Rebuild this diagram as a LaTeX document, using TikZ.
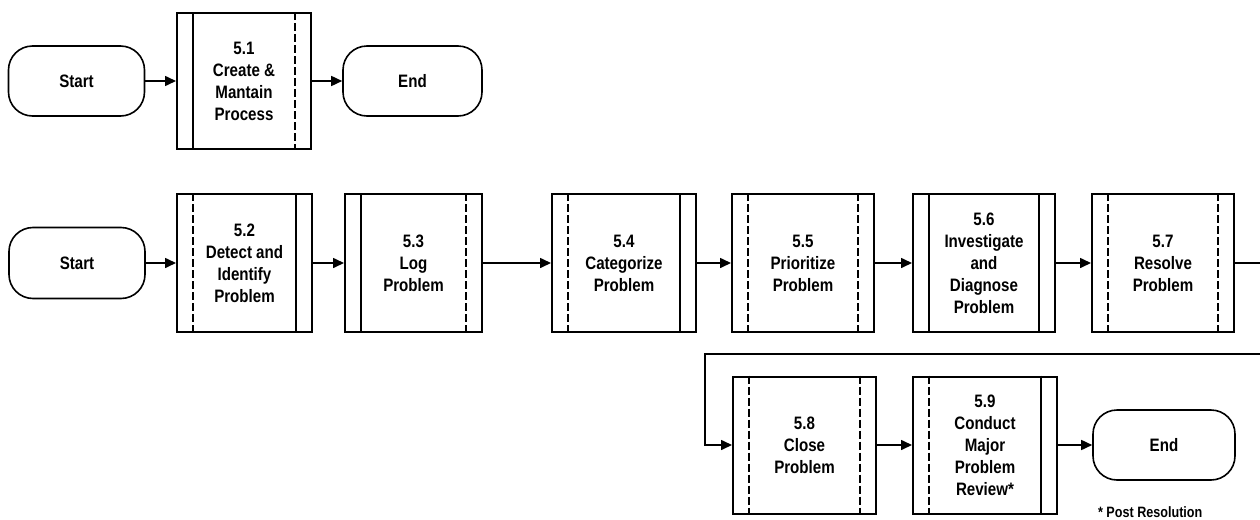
\documentclass[tikz,border=0pt]{standalone}
\usepackage{fontspec}
\setmainfont{Liberation Sans}[FakeStretch=0.84]
\usetikzlibrary{arrows.meta}
\begin{document}
\begin{tikzpicture}[x=0.5pt,y=-0.5pt,
  lbl/.style={font=\bfseries\fontsize{9}{11}\selectfont, align=center},
  term/.style={draw, line width=0.8pt, rounded corners=12pt,
    minimum width=68pt, minimum height=35pt, inner sep=0pt, lbl},
  proc/.style={draw, line width=1pt, minimum width=71pt, minimum height=69pt,
    inner sep=0pt, lbl},
  flow/.style={line width=0.8pt, -{Triangle[length=5.5pt,width=5pt]}},
  barsolid/.style={line width=0.8pt},
  bardash/.style={line width=0.8pt, dash pattern=on 4pt off 1.5pt},
  note/.style={font=\bfseries\fontsize{7.5}{9}\selectfont}]
\useasboundingbox (0,0) rectangle (1260,520);

% vertical bars inside a predefined-process box
\newcommand\procbars[3]{%
  \draw[#2] ([xshift=8.5pt]#1.north west) -- ([xshift=8.5pt]#1.south west);
  \draw[#3] ([xshift=-8.5pt]#1.north east) -- ([xshift=-8.5pt]#1.south east);}

% row 1
\node[term] (s1) at (76.5,81) {Start};
\node[proc, minimum width=67pt, minimum height=68pt] (b51) at (244,81)
  {5.1\\Create \&\\Mantain\\Process};
\node[term, minimum width=69.5pt] (e1) at (412.5,81) {End};

% row 2
\node[term, minimum height=35.5pt] (s2) at (77,263) {Start};
\node[proc, minimum width=67.5pt] (b52) at (244.5,263) {5.2\\Detect and\\Identify\\Problem};
\node[proc, minimum width=68.5pt] (b53) at (413.5,263) {5.3\\Log\\Problem};
\node[proc, minimum width=72pt] (b54) at (624,263) {5.4\\Categorize\\Problem};
\node[proc] (b55) at (803,263) {5.5\\Prioritize\\Problem};
\node[proc] (b56) at (984,263) {5.6\\Investigate\\and\\Diagnose\\Problem};
\node[proc] (b57) at (1163,263) {5.7\\Resolve\\Problem};

% row 3
\node[proc, minimum width=71.5pt, minimum height=68.5pt] (b58) at (804.5,445) {5.8\\Close\\Problem};
\node[proc, minimum width=72pt, minimum height=68.5pt] (b59) at (985,445) {5.9\\Conduct\\Major\\Problem\\Review*};
\node[term, minimum width=71pt] (e3) at (1164,445) {End};
\node[note, anchor=west] (pr) at (1091,512) {* Post Resolution};

% side bars
\procbars{b51}{barsolid}{bardash}
\procbars{b52}{bardash}{barsolid}
\procbars{b53}{barsolid}{bardash}
\procbars{b54}{bardash}{barsolid}
\procbars{b55}{bardash}{bardash}
\procbars{b56}{barsolid}{barsolid}
\procbars{b57}{bardash}{bardash}
\procbars{b58}{bardash}{bardash}
\procbars{b59}{bardash}{barsolid}

% connectors
\draw[flow] (s1) -- (b51);
\draw[flow] (b51) -- (e1);
\draw[flow] (s2) -- (b52);
\draw[flow] (b52) -- (b53);
\draw[flow] (b53) -- (b54);
\draw[flow] (b54) -- (b55);
\draw[flow] (b55) -- (b56);
\draw[flow] (b56) -- (b57);
\coordinate (rt) at (1266,263);
\coordinate (lt) at (705,354);
\draw[flow] (b57) -- (rt) |- (lt) |- (b58);
\draw[flow] (b58) -- (b59);
\draw[flow] (b59) -- (e3);
\end{tikzpicture}
\end{document}
